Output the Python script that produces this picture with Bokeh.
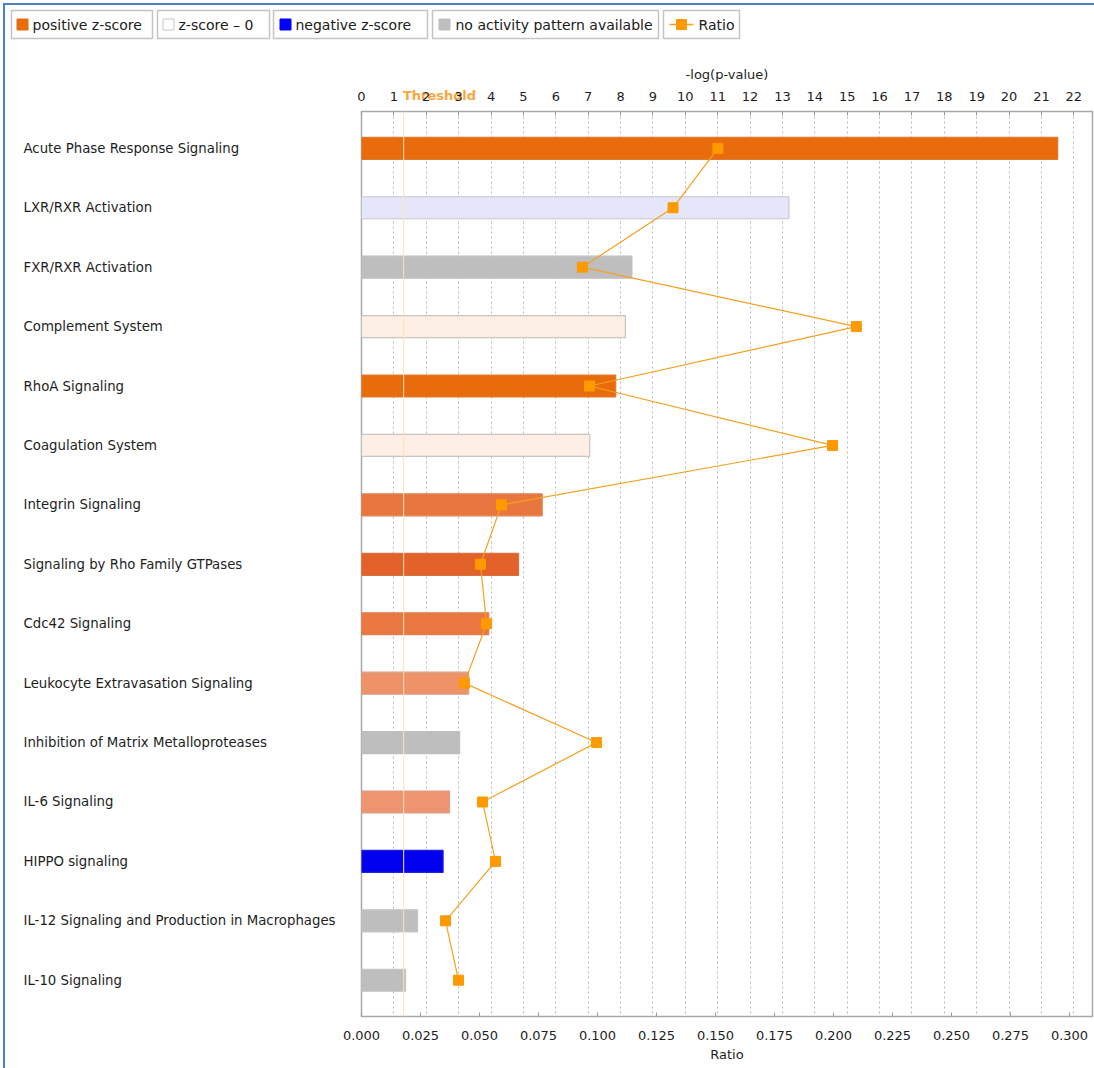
from bokeh.plotting import figure
from bokeh.layouts import column, row
from bokeh.models import (Range1d, LinearAxis, FixedTicker, PrintfTickFormatter,
                          Span, Div, ColumnDataSource)
from bokeh.core.properties import value
from bokeh.embed import file_html
from bokeh.resources import INLINE

# ---------------- data ----------------
pathways = [
    "Acute Phase Response Signaling",
    "LXR/RXR Activation",
    "FXR/RXR Activation",
    "Complement System",
    "RhoA Signaling",
    "Coagulation System",
    "Integrin Signaling",
    "Signaling by Rho Family GTPases",
    "Cdc42 Signaling",
    "Leukocyte Extravasation Signaling",
    "Inhibition of Matrix Metalloproteases",
    "IL-6 Signaling",
    "HIPPO signaling",
    "IL-12 Signaling and Production in Macrophages",
    "IL-10 Signaling",
]
neg_log_p = [21.5, 13.2, 8.35, 8.15, 7.85, 7.05, 5.58, 4.85, 3.93, 3.31, 3.03, 2.72, 2.52, 1.73, 1.36]
ratio = [0.151, 0.132, 0.0936, 0.2097, 0.0966, 0.1996, 0.0593, 0.0504, 0.053, 0.0436,
         0.0996, 0.0513, 0.0568, 0.0356, 0.0411]
bar_fill = ["#E86B0C", "#E6E6FA", "#BEBEBE", "#FDEEE6", "#E86B0C", "#FDEEE6", "#E8773F",
            "#E2622A", "#E8783F", "#EE9268", "#BEBEBE", "#EE9470", "#0000EE", "#BEBEBE", "#BEBEBE"]
bar_line = ["#E07A30", "#C8C8D0", "#BEBEBE", "#CCC4C0", "#E07A30", "#CCC4C0", "#E08050",
            "#D87040", "#E08050", "#D8A088", "#BEBEBE", "#D8A088", "#2020E0", "#C4C4C4", "#C4C4C4"]
log_ticks = list(range(0, 23))
ratio_ticks = [0.0, 0.025, 0.05, 0.075, 0.1, 0.125, 0.15, 0.175, 0.2, 0.225, 0.25, 0.275, 0.3]
threshold = 1.3

legend_labels = ["positive z-score", "z-score \u2013 0", "negative z-score",
                 "no activity pattern available", "Ratio"]
legend_swatch = ["#E86B0C", "#FFFFFF", "#0000FF", "#BEBEBE", "#FF9900"]

# ---------------- styles / layout ----------------
FONT = "DejaVu Sans"
LINE_C = "#F5A020"
MARK_C = "#FF9900"
TOTAL_W, TOTAL_H = 1094, 1068
LEG_H = 48
LEFT_B = 22
LABEL_W = 361 - LEFT_B
MAIN_W = TOTAL_W - LABEL_W
MAIN_H = TOTAL_H - LEG_H
TOP_B, BOT_B, RIGHT_B = 63, 52, 2
frame_w = MAIN_W - RIGHT_B - LEFT_B
frame_h = MAIN_H - TOP_B - BOT_B
px_per_log = 32.38
px_per_ratio = 2360.0
n = len(pathways)
ypos = list(range(n))
y_rng = Range1d(n - 1 + 0.61, -0.62)

# ---------------- legend strip ----------------
leg = figure(width=TOTAL_W, height=LEG_H, x_range=Range1d(0, TOTAL_W), y_range=Range1d(LEG_H, 0),
             toolbar_location=None, output_backend="svg", min_border=0,
             x_axis_type=None, y_axis_type=None, outline_line_color=None,
             border_fill_color=None, background_fill_color=None)
leg.grid.visible = False
box_l = [11, 157, 273, 432, 663]
box_r = [152, 269, 427, 658, 739]
box_t, box_b = 10, 38
ly = (box_t + box_b) / 2
leg.quad(left=box_l, right=box_r, top=[box_t] * 5, bottom=[box_b] * 5,
         fill_color="#FFFFFF", line_color="#C4C4C4", line_width=1.5)
sw_x = [22, 168, 285, 444]
leg.rect(x=sw_x, y=[ly] * 4, width=11, height=11,
         fill_color=legend_swatch[:4], line_color=["#E86B0C", "#C8C8C8", "#0000FF", "#BEBEBE"])
leg.segment(x0=[669], y0=[ly], x1=[693], y1=[ly], line_color=LINE_C, line_width=1.5)
leg.rect(x=[681], y=[ly], width=10, height=10, fill_color=MARK_C, line_color=MARK_C)
tx = [32, 178, 295, 455, 698]
leg.text(x=tx, y=[ly + 0.5] * 5, text=legend_labels, text_font=value(FONT), text_font_size="14px",
         text_baseline="middle", text_align="left", text_color="#202020")

# ---------------- labels column ----------------
lab = figure(width=LABEL_W, height=MAIN_H, x_range=Range1d(0, LABEL_W), y_range=y_rng,
             toolbar_location=None, output_backend="svg",
             min_border_left=0, min_border_right=0, min_border_top=TOP_B, min_border_bottom=BOT_B,
             x_axis_type=None, y_axis_type=None, outline_line_color=None,
             border_fill_color=None, background_fill_color=None)
lab.grid.visible = False
lab.text(x=[23] * n, y=ypos, text=pathways, text_font=value(FONT), text_font_size="13.3px",
         text_baseline="middle", text_align="left", text_color="#1E1E1E")

# ---------------- main chart ----------------
p = figure(width=MAIN_W, height=MAIN_H, x_range=Range1d(0, frame_w / px_per_log), y_range=y_rng,
           toolbar_location=None, output_backend="svg", x_axis_location="above",
           y_axis_location=None,
           min_border_left=LEFT_B, min_border_right=RIGHT_B, min_border_top=TOP_B, min_border_bottom=BOT_B,
           outline_line_color="#A8A8A8", outline_line_width=1.5,
           border_fill_color=None, background_fill_color="#FFFFFF")
p.extra_x_ranges = {"ratio": Range1d(0, frame_w / px_per_ratio)}

top = p.xaxis[0]
top.ticker = FixedTicker(ticks=log_ticks)
top.axis_label = "-log(p-value)"
top.axis_line_color = None
top.major_tick_in = 4
top.major_tick_out = 0
top.minor_tick_line_color = None
top.major_tick_line_color = "#999999"
top.major_label_standoff = 11
top.axis_label_standoff = 7
top.major_label_text_font = FONT
top.major_label_text_font_size = "13px"
top.major_label_text_color = "#1E1E1E"
top.axis_label_text_font = FONT
top.axis_label_text_font_size = "13px"
top.axis_label_text_font_style = "normal"
top.axis_label_text_color = "#1E1E1E"

bot = LinearAxis(x_range_name="ratio", ticker=FixedTicker(ticks=ratio_ticks),
                 formatter=PrintfTickFormatter(format="%.3f"), axis_label="Ratio")
bot.axis_line_color = None
bot.major_tick_in = 4
bot.major_tick_out = 0
bot.minor_tick_line_color = None
bot.major_tick_line_color = "#999999"
bot.major_label_standoff = 14
bot.axis_label_standoff = 4
bot.major_label_text_font = FONT
bot.major_label_text_font_size = "13px"
bot.major_label_text_color = "#1E1E1E"
bot.axis_label_text_font = FONT
bot.axis_label_text_font_size = "13px"
bot.axis_label_text_font_style = "normal"
bot.axis_label_text_color = "#1E1E1E"
p.add_layout(bot, "below")

p.ygrid.visible = False
p.xgrid.ticker = FixedTicker(ticks=log_ticks)
p.xgrid.grid_line_color = "#B8B8B8"
p.xgrid.grid_line_dash = "2 3"
p.xgrid.grid_line_width = 1

src = ColumnDataSource(dict(y=ypos, right=neg_log_p, ratio=ratio, fill=bar_fill, line=bar_line))
p.hbar(y="y", left=0, right="right", height=0.37, fill_color="fill", line_color="line",
       line_width=1.2, source=src)

p.add_layout(Span(location=threshold, dimension="height", line_color="#FFE2B8",
                  line_width=1.2, line_alpha=0.85))

p.line(x="ratio", y="y", source=src, x_range_name="ratio", line_color=LINE_C, line_width=1.2)
p.scatter(x="ratio", y="y", source=src, x_range_name="ratio", marker="square", size=10,
          fill_color=MARK_C, line_color=MARK_C)

# threshold caption, positioned over the top axis at the threshold value (behind the tick labels)
thr_left = 361 + threshold * px_per_log
thr = Div(text="Threshold", width=80, height=16,
          styles={"position": "absolute", "left": f"{thr_left:.0f}px", "top": "88px",
                  "color": "#F8A640", "font-family": FONT, "font-size": "13px",
                  "font-weight": "bold", "line-height": "16px", "margin": "0", "padding": "0",
                  "z-index": "-1", "pointer-events": "none"})

layout = column(leg, row(lab, p, spacing=0), thr, spacing=0,
                styles={"box-shadow": "inset 3px 3px 0 0 #FFFFFF, inset 5px 5px 0 0 #4F7FC4",
                        "position": "relative", "z-index": "0"})

open("out.html", "w").write(file_html(layout, INLINE))
